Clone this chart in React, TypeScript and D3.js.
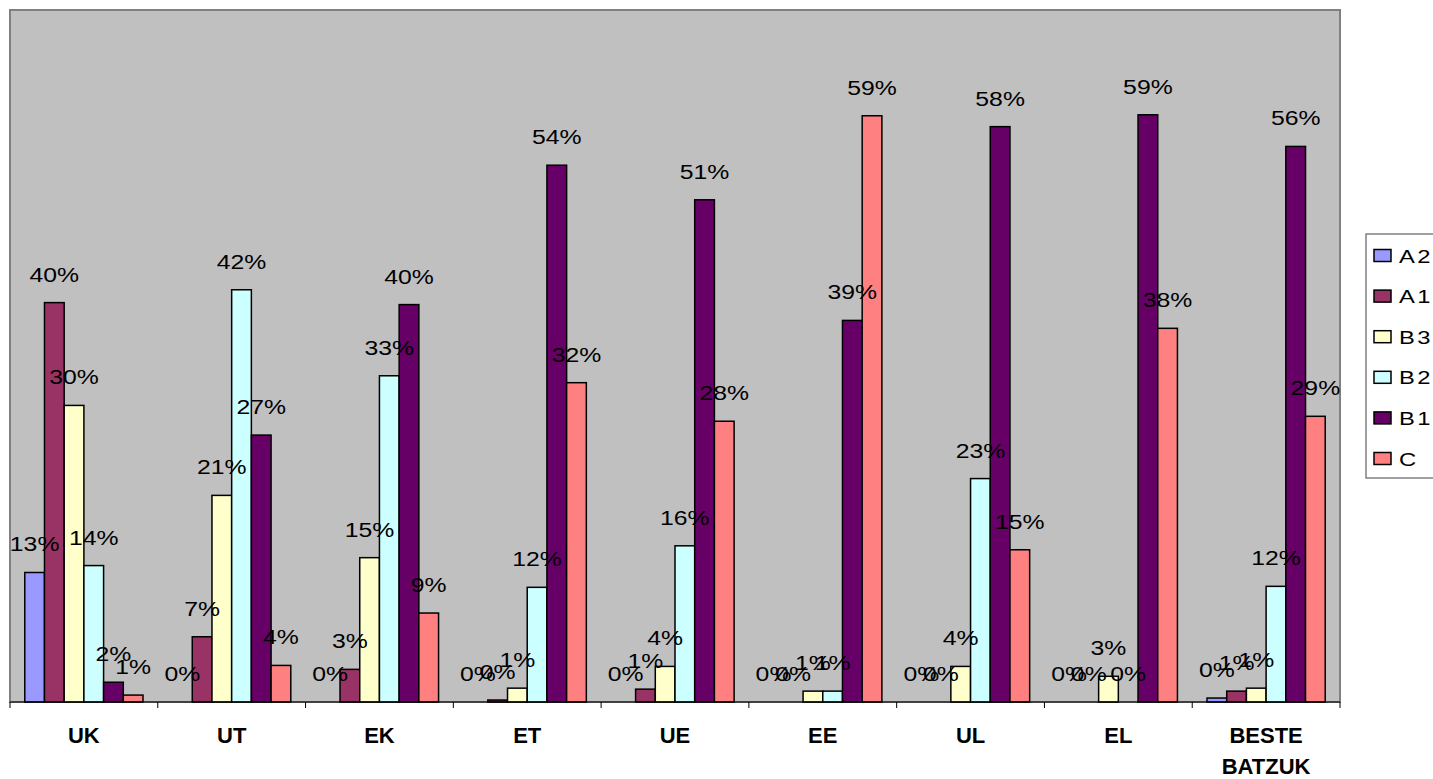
import * as d3 from "d3";

const categories = ["UK", "UT", "EK", "ET", "UE", "EE", "UL", "EL", "BESTE BATZUK"];
const series = ["A2", "A1", "B3", "B2", "B1", "C"];
const colors = ["#9999FF", "#993366", "#FFFFCC", "#CCFFFF", "#660066", "#FF8080"];

// percent values per series, one entry per category
const A2 = [13.1, 0, 0, 0, 0, 0, 0, 0, 0.4];
const A1 = [40.4, 6.6, 3.3, 0.2, 1.3, 0, 0, 0, 1.1];
const B3 = [30.0, 20.9, 14.6, 1.4, 3.6, 1.1, 3.6, 2.6, 1.4];
const B2 = [13.8, 41.7, 33.0, 11.6, 15.8, 1.1, 22.6, 0, 11.7];
const B1 = [2.0, 27.0, 40.2, 54.3, 50.8, 38.6, 58.2, 59.4, 56.2];
const C = [0.7, 3.7, 9.0, 32.3, 28.4, 59.3, 15.4, 37.8, 28.9];
const values = [A2, A1, B3, B2, B1, C];

const W = 1433;
const H = 779;
const plot = { left: 10, right: 1340, top: 10, bottom: 702 };

export default function App() {
  const x = d3.scaleBand().domain(categories).range([plot.left, plot.right]);
  const xi = d3.scaleBand().domain(series).range([0, x.bandwidth()]).paddingOuter(0.75);
  const y = d3.scaleLinear().domain([0, 70]).range([plot.bottom, plot.top]);

  const ticks = categories.map((c) => x(c)!).concat([plot.right]);

  return (
    <svg
      width={W}
      height={H}
      style={{ position: "absolute", left: 0, top: 0, display: "block", background: "#fff" }}
      fontFamily="'Liberation Sans', Arial, sans-serif"
    >
      <rect
        x={plot.left}
        y={plot.top}
        width={plot.right - plot.left}
        height={plot.bottom - plot.top}
        fill="#C0C0C0"
        stroke="#808080"
        strokeWidth={2}
      />

      {series.map((s, si) => (
        <g key={s}>
          {categories.map((c, ci) => {
            const v = values[si][ci];
            const bx = x(c)! + xi(s)!;
            return (
              <rect
                key={c}
                x={bx}
                y={y(v)}
                width={xi.bandwidth()}
                height={plot.bottom - y(v)}
                fill={colors[si]}
                stroke="#000"
                strokeWidth={1.5}
              />
            );
          })}
        </g>
      ))}

      {/* x axis */}
      <line x1={plot.left} x2={plot.right} y1={plot.bottom} y2={plot.bottom} stroke="#000" strokeWidth={1} />
      {ticks.map((t, i) => (
        <line key={i} x1={t} x2={t} y1={plot.bottom} y2={plot.bottom + 6} stroke="#000" strokeWidth={1} />
      ))}

      {/* data labels */}
      {series.map((s, si) => (
        <g key={s}>
          {categories.map((c, ci) => {
            const v = values[si][ci];
            const cx = x(c)! + xi(s)! + xi.bandwidth() / 2;
            return (
              <text
                key={c}
                transform={`translate(${cx},${y(v) - 21}) scale(1.18,1)`}
                textAnchor="middle"
                fontSize={21}
                fill="#000"
              >
                {Math.round(v) + "%"}
              </text>
            );
          })}
        </g>
      ))}

      {/* category labels */}
      {categories.map((c) => {
        const words = c.split(" ");
        return (
          <text
            key={c}
            x={x(c)! + x.bandwidth() / 2}
            y={743}
            textAnchor="middle"
            fontSize={22}
            fontWeight="bold"
            fill="#000"
          >
            {words.map((w, i) => (
              <tspan key={i} x={x(c)! + x.bandwidth() / 2} dy={i === 0 ? 0 : 31}>
                {w}
              </tspan>
            ))}
          </text>
        );
      })}

      {/* legend */}
      <rect x={1366} y={234} width={80} height={244} fill="#fff" stroke="#808080" strokeWidth={1.5} />
      {series.map((s, si) => {
        const cy = 255.5 + si * 40.6;
        return (
          <g key={s}>
            <rect x={1374} y={cy - 6} width={17} height={12} fill={colors[si]} stroke="#000" strokeWidth={1.5} />
            <text
              transform={`translate(1399,${cy + 7}) scale(1.25,1)`}
              fontSize={19}
              letterSpacing={2}
              fill="#000"
            >
              {s}
            </text>
          </g>
        );
      })}
    </svg>
  );
}
